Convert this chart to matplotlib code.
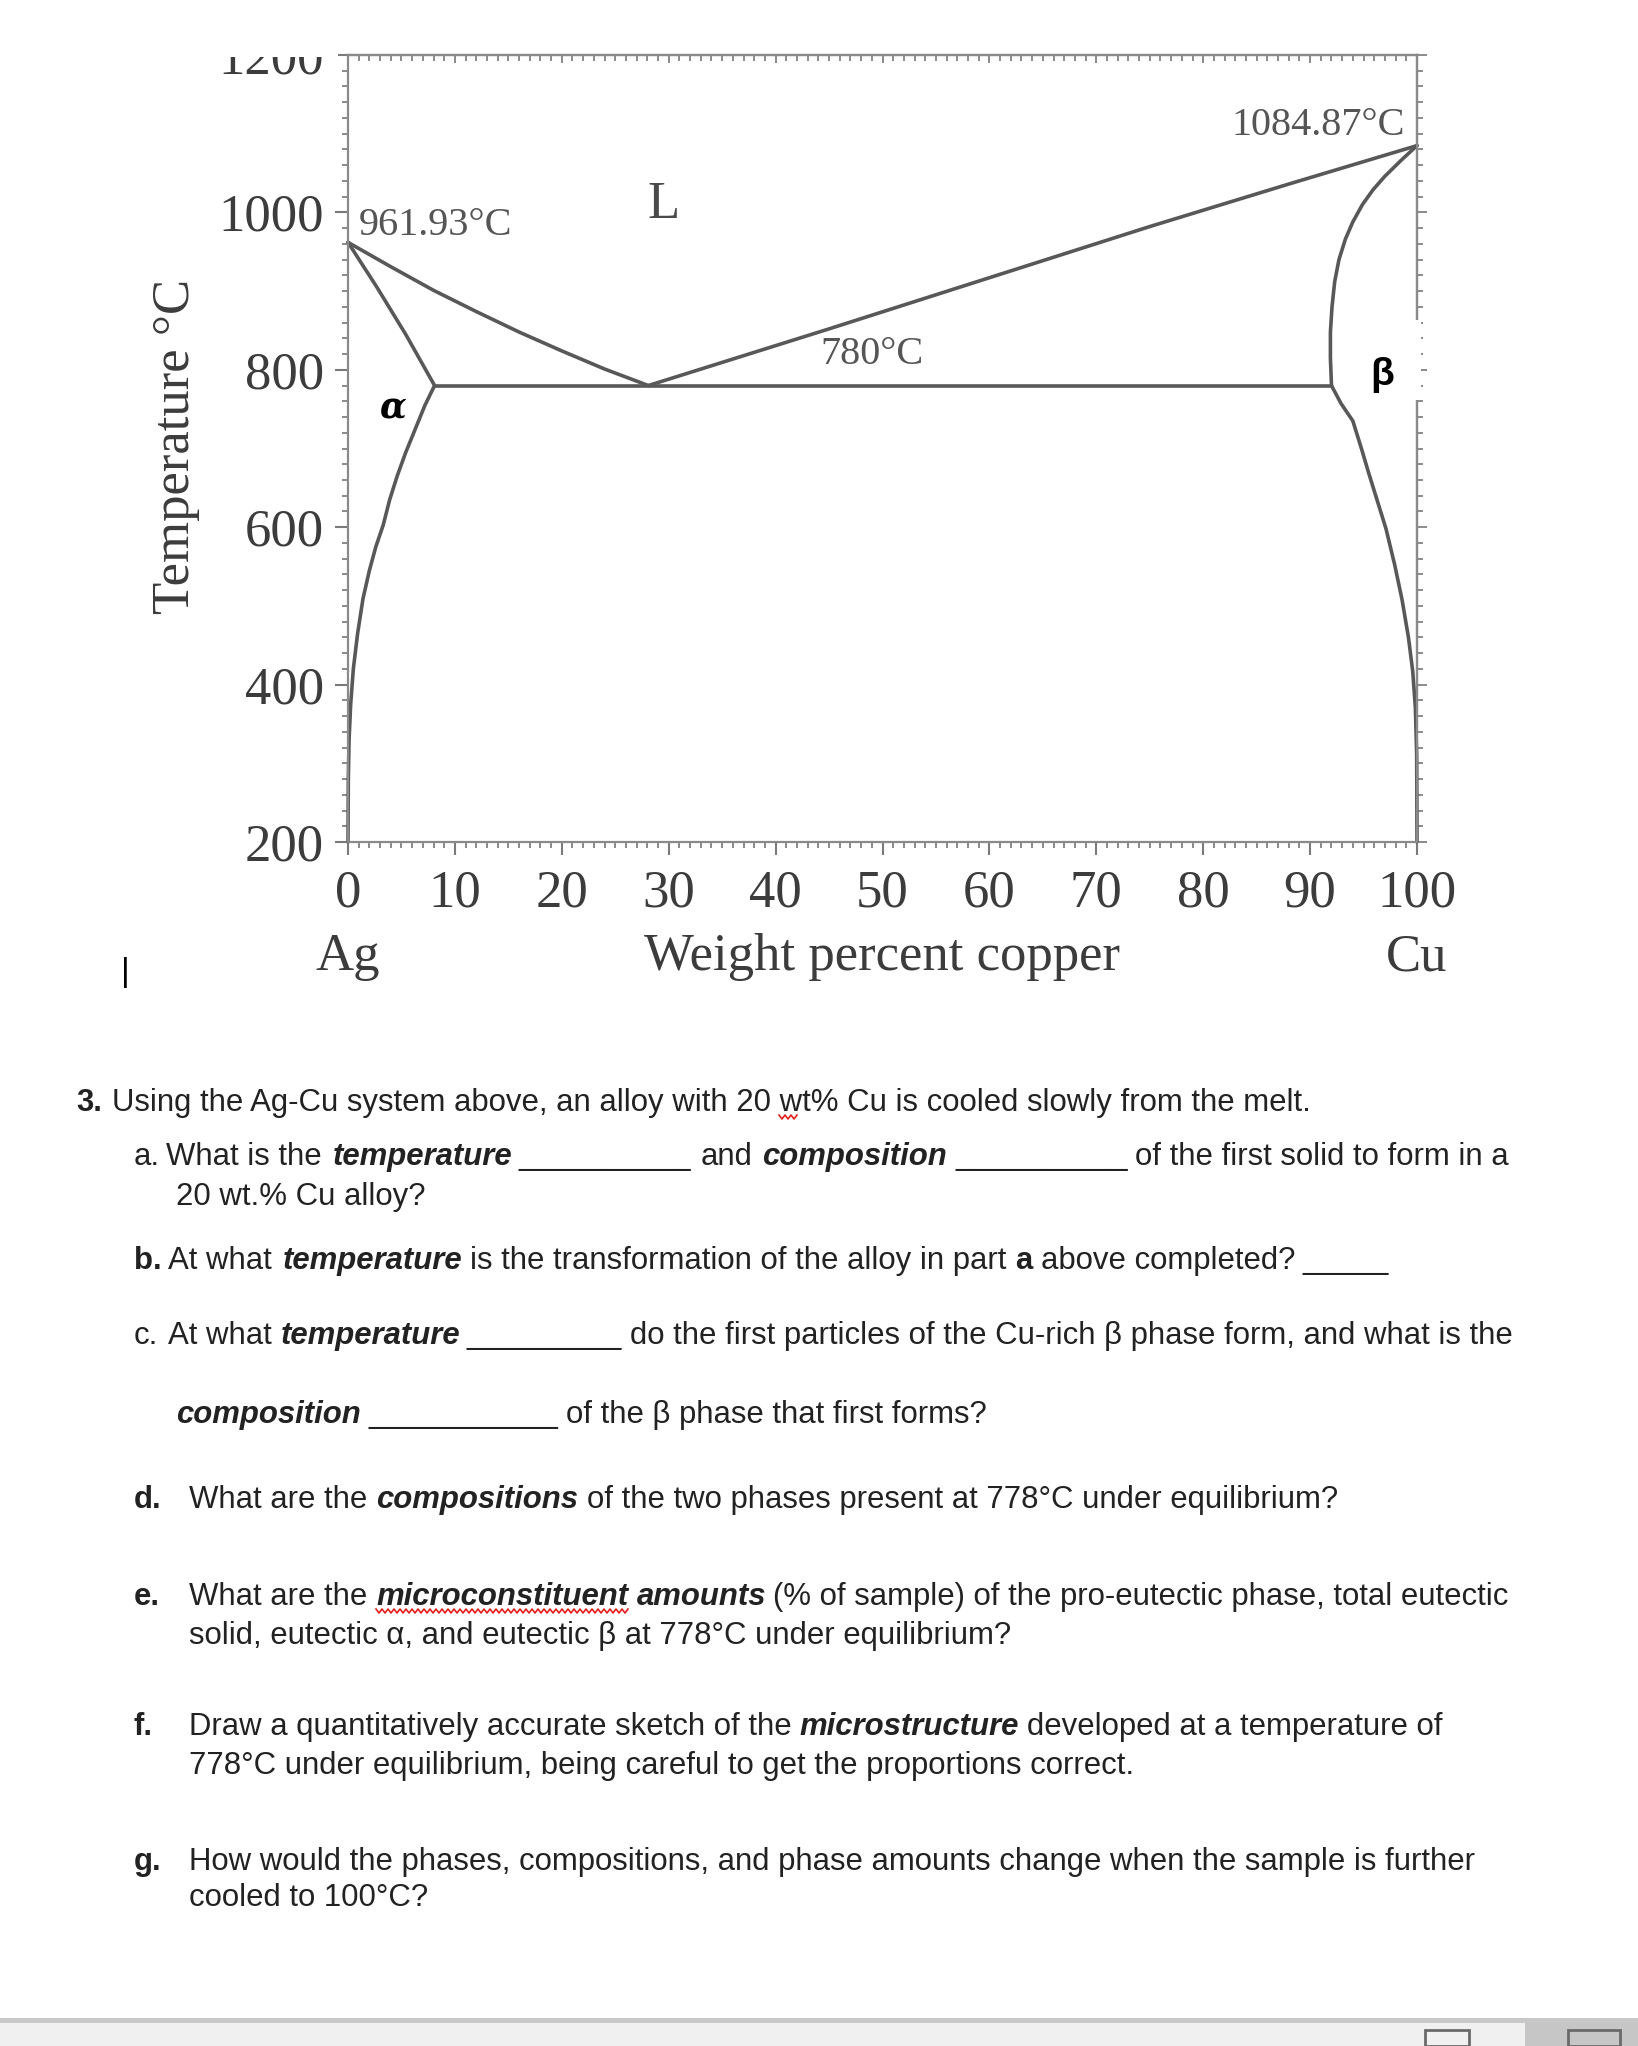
import matplotlib
matplotlib.use("Agg")
import numpy as np
import matplotlib.pyplot as plt
from matplotlib.ticker import MultipleLocator, FixedLocator
from matplotlib.patches import Rectangle
from matplotlib.lines import Line2D
import matplotlib.transforms as mtransforms

# ---------------- data ----------------
x_major = [0, 10, 20, 30, 40, 50, 60, 70, 80, 90, 100]
y_major = [200, 400, 600, 800, 1000, 1200]

liq_left_x = [0.0, 4, 8, 12, 16, 20, 24, 28.1]
liq_left_T = [961.93, 931, 901, 874, 848, 824, 801, 780]

sol_alpha_x = [0.0, 2.7, 5.4, 8.1]
sol_alpha_T = [961.93, 905, 845, 780]

solv_alpha_x = [8.1, 7.2, 6.3, 5.4, 4.6, 3.9, 3.3, 2.6, 2.0, 1.4, 0.9, 0.5, 0.25, 0.1, 0.03, 0.0]
solv_alpha_T = [780, 755, 725, 695, 665, 635, 603, 575, 545, 509, 465, 420, 375, 330, 280, 200]

liq_right_x = [28.1, 45, 60, 75, 88, 100]
liq_right_T = [780, 852, 917, 982, 1036, 1084.87]

sol_beta_x = [100, 98.5, 97.0, 95.9, 94.9, 94.0, 93.3, 92.7, 92.3, 92.05, 91.9, 91.9, 92.0]
sol_beta_T = [1084.87, 1066, 1046, 1029, 1010, 988, 966, 940, 912, 880, 848, 815, 780]

solv_beta_x = [92.0, 92.9, 94.0, 94.8, 95.5, 96.3, 97.1, 97.9, 98.6, 99.2, 99.6, 99.85, 99.97, 100]
solv_beta_T = [780, 757, 735, 700, 668, 633, 598, 553, 508, 460, 417, 370, 310, 200]

eut_x = [8.1, 92.0]
eut_T = [780, 780]

annotations = [("961.93°C", 1.0, 983, "left"), ("780°C", 49.0, 819, "center"),
               ("1084.87°C", 98.9, 1111, "right")]

# question text: (y_px, [(x_px or None -> follows previous, text, weight, style), ...])
question_lines = [
    (1103, [(76, "3.", "bold", "normal"),
            (112, "Using the Ag-Cu system above, an alloy with 20 wt% Cu is cooled slowly from the melt.", "normal", "normal")]),
    (1157, [(134, "a.", "normal", "normal"), (166, "What is the", "normal", "normal"),
            (333, "temperature", "bold", "italic"), (519, "__________", "normal", "normal"),
            (701, "and", "normal", "normal"), (762, "composition", "bold", "italic"),
            (955, "__________", "normal", "normal"),
            (1135, "of the first solid to form in a", "normal", "normal")]),
    (1197, [(176, "20 wt.% Cu alloy?", "normal", "normal")]),
    (1261, [(134, "b.", "bold", "normal"), (168, "At what", "normal", "normal"),
            (283, "temperature", "bold", "italic"),
            (470, "is the transformation of the alloy in part", "normal", "normal"),
            (None, "a", "bold", "normal"), (None, "above completed?", "normal", "normal"),
            (1302, "_____", "normal", "normal")]),
    (1336, [(134, "c.", "normal", "normal"), (168, "At what", "normal", "normal"),
            (281, "temperature", "bold", "italic"), (466, "_________", "normal", "normal"),
            (630, "do the first particles of the Cu-rich β phase form, and what is the", "normal", "normal")]),
    (1415, [(176, "composition", "bold", "italic"), (369, "___________", "normal", "normal"),
            (566, "of the β phase that first forms?", "normal", "normal")]),
    (1500, [(134, "d.", "bold", "normal"), (189, "What are the", "normal", "normal"),
            (376, "compositions", "bold", "italic"),
            (None, "of the two phases present at 778°C under equilibrium?", "normal", "normal")]),
    (1597, [(134, "e.", "bold", "normal"), (189, "What are the", "normal", "normal"),
            (376, "microconstituent", "bold", "italic"), (None, "amounts", "bold", "italic"),
            (773, "(% of sample) of the pro-eutectic phase, total eutectic", "normal", "normal")]),
    (1636, [(189, "solid, eutectic α, and eutectic β at 778°C under equilibrium?", "normal", "normal")]),
    (1727, [(134, "f.", "bold", "normal"), (189, "Draw a quantitatively accurate sketch of the", "normal", "normal"),
            (799, "microstructure", "bold", "italic"),
            (None, "developed at a temperature of", "normal", "normal")]),
    (1766, [(189, "778°C under equilibrium, being careful to get the proportions correct.", "normal", "normal")]),
    (1862, [(134, "g.", "bold", "normal"),
            (189, "How would the phases, compositions, and phase amounts change when the sample is further", "normal", "normal")]),
    (1898, [(189, "cooled to 100°C?", "normal", "normal")]),
]

# ---------------- figure ----------------
W, H = 1638, 2046
fig = plt.figure(figsize=(W / 100, H / 100), dpi=100)
fig.patch.set_facecolor("white")

L, R, T, B = 348, 1417, 55, 842
ax = fig.add_axes([L / W, 1 - B / H, (R - L) / W, (B - T) / H])
ax.set_xlim(0, 100)
ax.set_ylim(200, 1200)

serif = "Liberation Serif"
line_c = "#585858"
lw = 2.6
for xs, ts in [(liq_left_x, liq_left_T), (sol_alpha_x, sol_alpha_T), (solv_alpha_x, solv_alpha_T),
               (liq_right_x, liq_right_T), (sol_beta_x, sol_beta_T), (solv_beta_x, solv_beta_T),
               (eut_x, eut_T)]:
    ax.plot(xs, ts, color=line_c, lw=lw, solid_capstyle="round", solid_joinstyle="round", clip_on=False)

spine_c = "#8a8a8a"
for s in ax.spines.values():
    s.set_color(spine_c)
    s.set_linewidth(1.6)

ax.xaxis.set_major_locator(FixedLocator(x_major))
ax.yaxis.set_major_locator(FixedLocator(y_major))
ax.xaxis.set_minor_locator(MultipleLocator(1))
ax.yaxis.set_minor_locator(MultipleLocator(20))
ax.set_xticklabels([str(v) for v in x_major])
ax.set_yticklabels([str(v) for v in y_major])
ax.tick_params(which="major", direction="out", length=9.5, width=1.5, color="#7a7a7a",
               labelsize=38, labelcolor="#3c3c3c")
ax.tick_params(which="minor", direction="out", length=4, width=1.4, color="#8a8a8a")
ax.tick_params(axis="x", which="major", pad=10)
ax.tick_params(axis="y", which="major", pad=8)
for lab in ax.get_xticklabels() + ax.get_yticklabels():
    lab.set_fontfamily(serif)

secx = ax.secondary_xaxis("top")
secx.xaxis.set_major_locator(FixedLocator(x_major))
secx.xaxis.set_minor_locator(MultipleLocator(1))
secx.tick_params(which="major", direction="in", length=6, width=1.4, color="#8a8a8a", labeltop=False)
secx.tick_params(which="minor", direction="in", length=4, width=1.4, color="#8a8a8a")
secx.spines["top"].set_color(spine_c)
secx.spines["top"].set_linewidth(1.6)

secy = ax.secondary_yaxis("right")
secy.yaxis.set_major_locator(FixedLocator(y_major))
secy.yaxis.set_minor_locator(MultipleLocator(20))
secy.tick_params(which="major", direction="out", length=7, width=1.4, color="#8a8a8a", labelright=False)
secy.tick_params(which="minor", direction="out", length=4, width=1.4, color="#8a8a8a")
secy.spines["right"].set_color(spine_c)
secy.spines["right"].set_linewidth(1.6)

# annotations
for txt, x, t, ha in annotations:
    ax.text(x, t, txt, fontsize=29, family=serif, color="#555555", ha=ha, va="center")
ax.text(29.5, 1009, "L", fontsize=38, family=serif, color="#4a4a4a", ha="center", va="center")
ax.text(4.2, 752, "α", fontsize=25, family="DejaVu Serif", weight="bold", style="italic",
        color="black", ha="center", va="center")
ax.text(96.7, 793, "β", fontsize=28, family="Liberation Sans", weight="bold", color="black",
        ha="center", va="center", zorder=6, clip_on=False)

# gap in the right frame behind the beta label
fig.add_artist(Rectangle((1413 / W, 1 - 400 / H), 8 / W, 80 / H, transform=fig.transFigure,
                         facecolor="white", edgecolor="none", zorder=20))

# axis titles
xt = mtransforms.blended_transform_factory(ax.transData, ax.transAxes)
yl = -(957 - B) / (B - T)
ax.text(0, yl, "Ag", transform=xt, fontsize=38, family=serif, color="#3c3c3c", ha="center", va="center")
ax.text(50, yl, "Weight percent copper", transform=xt, fontsize=38, family=serif, color="#3c3c3c",
        ha="center", va="center")
ax.text(100, yl, "Cu", transform=xt, fontsize=38, family=serif, color="#3c3c3c", ha="center", va="center")
fig.text(176 / W, 1 - 446 / H, "Temperature °C", rotation=90, fontsize=38, family=serif,
         color="#3c3c3c", ha="center", va="center")

# crop of the top edge (screenshot cut)
fig.add_artist(Rectangle((0, 1 - 48 / H), 1, 48 / H, transform=fig.transFigure,
                         facecolor="white", edgecolor="none", zorder=20))
fig.add_artist(Rectangle((0, 1 - 57 / H), 338 / W, 57 / H, transform=fig.transFigure,
                         facecolor="white", edgecolor="none", zorder=20))

# text cursor
fig.text(125 / W, 1 - 972 / H, "|", fontsize=24, family="Liberation Sans", color="black",
         ha="center", va="center")

# question text
renderer = fig.canvas.get_renderer()
fs = 22.4
space_w = 0.278 * fs * 100 / 72
for y, segs in question_lines:
    cur = None
    for x, s, wgt, sty in segs:
        if x is None:
            x = cur + space_w
        t = fig.text(x / W, 1 - y / H, s, fontsize=fs, family="Liberation Sans", weight=wgt, style=sty,
                     color="#222222", ha="left", va="center")
        cur = t.get_window_extent(renderer).x1

# spell-check squiggles (decorative zig-zags)
def squiggle(x0, x1, y):
    xs = np.arange(x0, x1 + 0.1, 3.0)
    ys = np.where(np.arange(len(xs)) % 2 == 0, y - 2, y + 2)
    fig.add_artist(Line2D(xs / W, 1 - ys / H, transform=fig.transFigure, color="#e02020", lw=1.2))

squiggle(779, 799, 1117)
squiggle(376, 628, 1611)

# bottom status bar
fig.add_artist(Rectangle((0, 0), 1, 23 / H, transform=fig.transFigure, facecolor="#f0f0f0",
                         edgecolor="none", zorder=20))
fig.add_artist(Rectangle((0, 23 / H), 1, 5 / H, transform=fig.transFigure, facecolor="#c8c8c8",
                         edgecolor="none", zorder=20))
fig.add_artist(Rectangle((1525 / W, 0), 1 - 1525 / W, 23 / H, transform=fig.transFigure,
                         facecolor="#c6c6c6", edgecolor="none", zorder=21))
fig.add_artist(Rectangle((1425 / W, 0), 44 / W, 16 / H, transform=fig.transFigure,
                         facecolor="none", edgecolor="#6a6a6a", lw=2, zorder=22))
fig.add_artist(Rectangle((1568 / W, 0), 52 / W, 16 / H, transform=fig.transFigure,
                         facecolor="none", edgecolor="#6a6a6a", lw=2, zorder=22))

fig.savefig("out.png", dpi=100)
